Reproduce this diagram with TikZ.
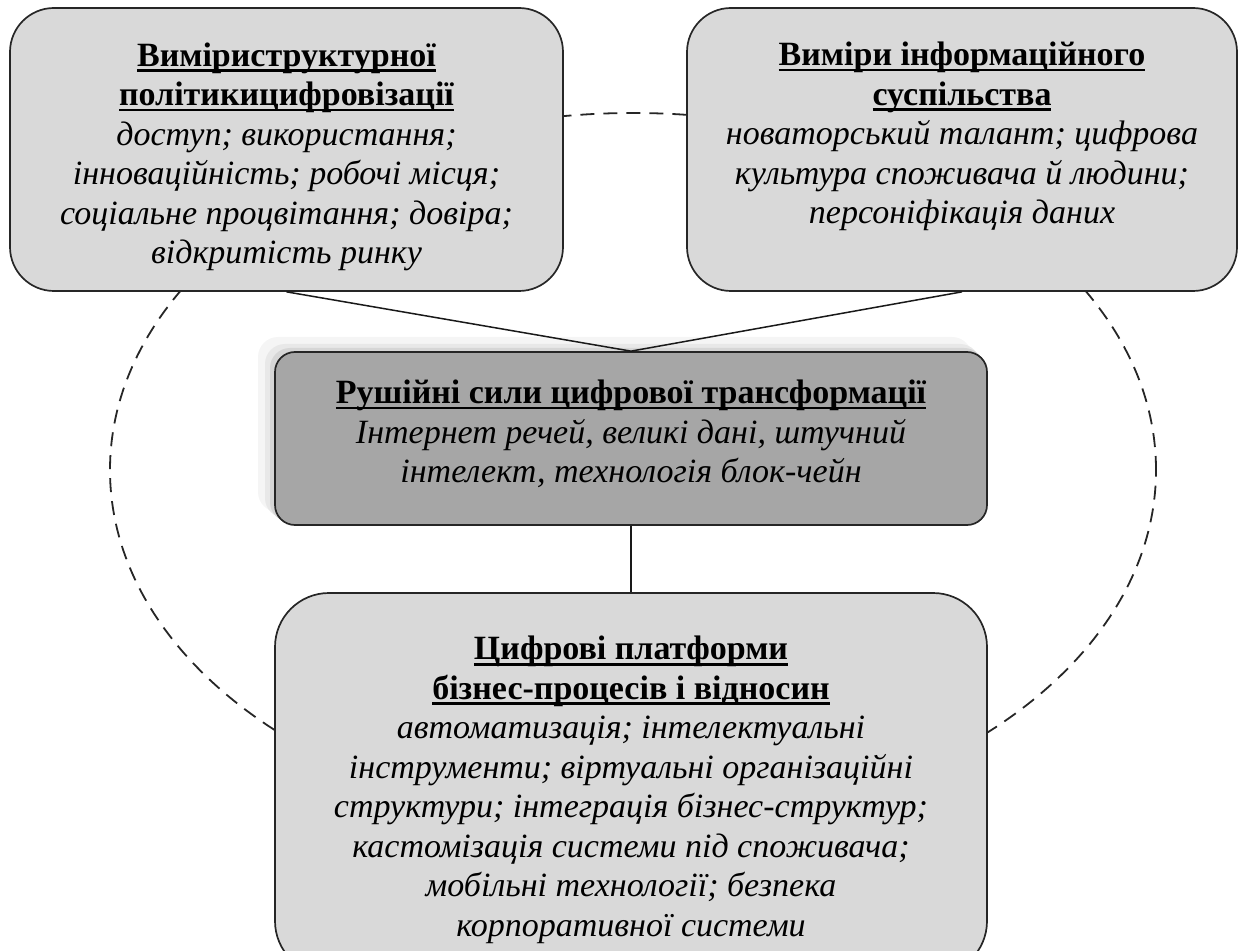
\documentclass[tikz,border=0pt]{standalone}
\usepackage{fontspec}
\setmainfont{Liberation Serif}
\definecolor{boxgray}{HTML}{D9D9D9}
\definecolor{midgray}{HTML}{A6A6A6}
\newcommand\hdul[1]{\setbox0\hbox{#1}\rlap{\rule[-2.8pt]{\wd0}{1.3pt}}\box0}
\begin{document}
\begin{tikzpicture}[x=0.5pt,y=-0.5pt,
  box/.style={draw=black!85, line width=0.85pt, fill=boxgray, inner sep=0pt},
  txt/.style={align=center, inner sep=0pt, font=\fontsize{17}{19.75}\selectfont},
  conn/.style={draw=black!90, line width=0.75pt},
  ring/.style={draw=black!85, line width=0.9pt, dash pattern=on 7pt off 4.5pt}]
\useasboundingbox (0,0) rectangle (1246,951);
\clip (0,0) rectangle (1246,951);
% dashed ellipse behind the boxes
\draw[ring] (633,470) ellipse [x radius=261.5pt, y radius=178.5pt];
% boxes
\node[box, rounded corners=22pt, minimum width=276.5pt, minimum height=141.5pt] (tl) at (286.5,149.5) {};
\node[box, rounded corners=22pt, minimum width=275pt, minimum height=141.5pt] (tr) at (962,149.5) {};
% shadow of the centre box
\fill[gray!8, rounded corners=10pt] (258,337) rectangle (972,512);
\fill[gray!18, rounded corners=10pt] (265,344) rectangle (980,518);
\fill[gray!32, rounded corners=10pt] (270,348) rectangle (984,522);
\node[box, fill=midgray, rounded corners=10pt, minimum width=356pt, minimum height=86.5pt] (c) at (631,438.5) {};
\node[box, rounded corners=27pt, minimum width=356pt, minimum height=191pt] (b) at (631,784) {};
% connectors
\draw[conn] (tl.south) -- (c.north);
\draw[conn] (tr.south) -- (c.north);
\draw[conn] (c.south) -- (b.north);
% texts
\node[txt] (tlt) at (286.5,157) {\bfseries\hdul{Виміриструктурної}\\ \bfseries\hdul{політикицифровізації}\\ \itshape доступ; використання;\\ \itshape інноваційність; робочі місця;\\ \itshape соціальне процвітання; довіра;\\ \itshape відкритість ринку};
\node[txt] (trt) at (962,136.5) {\bfseries\hdul{Виміри інформаційного}\\ \bfseries\hdul{суспільства}\\ \itshape новаторський талант; цифрова\\ \itshape культура споживача й людини;\\ \itshape персоніфікація даних};
\node[txt] (ct) at (631,434) {\bfseries\hdul{Рушійні сили цифрової трансформації}\\ \itshape Інтернет речей, великі дані, штучний\\ \itshape інтелект, технологія блок-чейн};
\node[txt] (bt) at (631,790) {\bfseries\hdul{Цифрові платформи}\\ \bfseries\hdul{бізнес-процесів і відносин}\\ \itshape автоматизація; інтелектуальні\\ \itshape інструменти; віртуальні організаційні\\ \itshape структури; інтеграція бізнес-структур;\\ \itshape кастомізація системи під споживача;\\ \itshape мобільні технології; безпека\\ \itshape корпоративної системи};
\end{tikzpicture}
\end{document}
